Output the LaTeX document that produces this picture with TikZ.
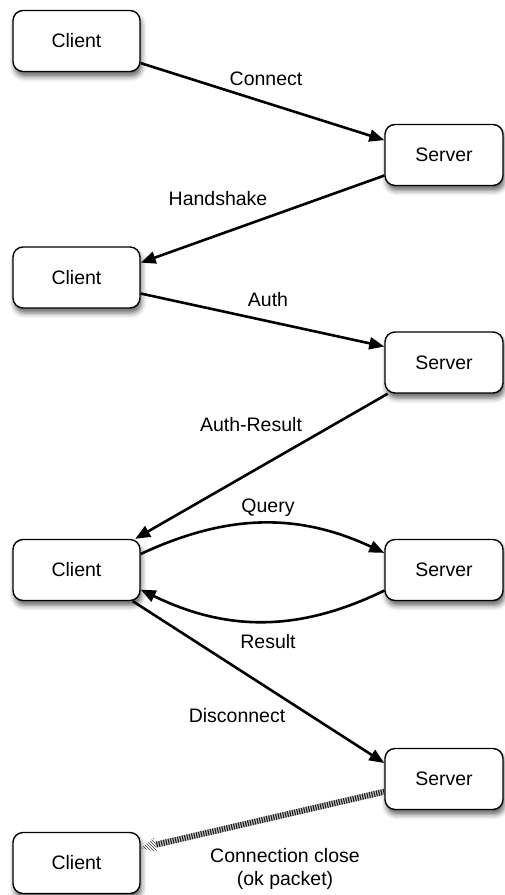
\documentclass[tikz,border=0pt]{standalone}
\usepackage{fontspec}
\setmainfont{Liberation Sans}
\usetikzlibrary{arrows.meta,shadows.blur,calc,patterns}

\begin{document}
\begin{tikzpicture}[x=1pt,y=1pt,
  txt/.style={font=\fontsize{19.5}{23}\selectfont},
  box/.style={txt, draw=black, line width=1.4pt, rounded corners=10pt, fill=white,
    minimum height=61pt,
    blur shadow={shadow xshift=1.5pt, shadow yshift=-5pt, shadow blur radius=5pt, shadow opacity=60}},
  client/.style={box, minimum width=127pt},
  server/.style={box, minimum width=118pt},
  msg/.style={line width=2.6pt, -{Triangle[length=15pt,width=12pt]}},
  lbl/.style={txt, inner sep=0pt, align=center}]
\useasboundingbox (0,0) rectangle (504,-895);

% hosts
\node[client] (c1) at (76.5,-41)  {Client};
\node[server] (s1) at (444,-155)  {Server};
\node[client] (c2) at (76.5,-277.5) {Client};
\node[server] (s2) at (444,-362.5) {Server};
\node[client] (c3) at (76.5,-570) {Client};
\node[server] (s3) at (444,-570)  {Server};
\node[server] (s4) at (444,-779)  {Server};
\node[client] (c5) at (76.5,-863) {Client};

% messages
\draw[msg] (c1.-19) -- (s1.166);
\draw[msg] (s1.199) -- (c2.13);
\draw[msg] (c2.-14) -- (s2.165);
\draw[msg] (s2.209) -- (c3.28);
\draw[msg] (c3.14) to[out=25,in=155] (s3.164);
\draw[msg] (s3.199) to[out=206,in=-26] (c3.-17);
\draw[msg] (c3.-29) -- (s4.165);

% closing packet: hatched band with hatched head
\coordinate (ca) at (s4.192);
\coordinate (cb) at (c5.13);
\coordinate (ct) at ($(cb)!15pt!(ca)$);
\draw[line width=6pt, gray!45] (ca) -- (ct);
\draw[line width=6pt, gray!20!black, dash pattern=on 1.1pt off 1.3pt] (ca) -- (ct);
\fill[pattern=north west lines, pattern color=gray!40!black]
  ($(ct)!7pt!90:(cb)$) -- (cb) -- ($(ct)!7pt!-90:(cb)$) -- cycle;

% labels
\node[lbl] (lconnect) at (266,-79)  {Connect};
\node[lbl] (lhand)    at (218,-199) {Handshake};
\node[lbl] (lauth)    at (268,-300) {Auth};
\node[lbl] (lares)    at (251,-425) {Auth-Result};
\node[lbl] (lquery)   at (268,-508) {Query};
\node[lbl] (lresult)  at (268,-642) {Result};
\node[lbl] (ldisc)    at (237,-716) {Disconnect};
\node[lbl] (lclose)   at (285,-869) {Connection close\\(ok packet)};
\end{tikzpicture}
\end{document}
